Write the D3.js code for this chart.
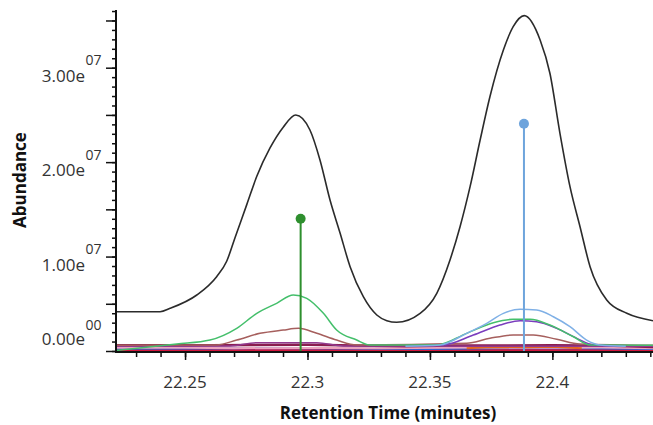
<!DOCTYPE html>
<html>
<head>
<meta charset="utf-8">
<script src="https://cdn.jsdelivr.net/npm/d3@7"></script>
<style>
  html, body { margin: 0; padding: 0; background: #fff; }
  svg { display: block; }
  text { font-family: "Open Sans", "Noto Sans", sans-serif; fill: #333; }
</style>
</head>
<body>
<svg id="chart" width="653" height="425"></svg>
<script>
// ---------------- DATA ----------------
// Total ion chromatogram (black)
const ticTimes = [22.2218, 22.2398, 22.2439, 22.2548, 22.2629, 22.2670, 22.2704, 22.2752, 22.2793, 22.2847,
  22.2901, 22.2952, 22.3010, 22.3051, 22.3092, 22.3133, 22.3174, 22.3228, 22.3283, 22.3324,
  22.3364, 22.3460, 22.3528, 22.3582, 22.3623, 22.3664, 22.3705, 22.3745, 22.3800, 22.3840,
  22.3885, 22.3950, 22.3990, 22.4031, 22.4072, 22.4113, 22.4154, 22.4222, 22.4304, 22.4411];
const ticValues = [0.416e7, 0.416e7, 0.452e7, 0.593e7, 0.787e7, 0.950e7, 1.200e7, 1.550e7, 1.850e7, 2.150e7,
  2.370e7, 2.499e7, 2.340e7, 2.023e7, 1.599e7, 1.250e7, 0.893e7, 0.575e7, 0.381e7, 0.321e7,
  0.304e7, 0.399e7, 0.611e7, 0.964e7, 1.316e7, 1.740e7, 2.234e7, 2.693e7, 3.188e7, 3.434e7,
  3.551e7, 3.293e7, 2.941e7, 2.305e7, 1.740e7, 1.316e7, 0.893e7, 0.540e7, 0.399e7, 0.321e7];

// Extracted ion traces
const greenTimes = [22.2218, 22.2466, 22.2602, 22.2711, 22.2793, 22.2874, 22.2942, 22.2997, 22.3065, 22.3119, 22.3201, 22.3255,
  22.3528, 22.3650, 22.3759, 22.3840, 22.3909, 22.3990, 22.4086, 22.4154, 22.4411];
const greenValues = [0.060e6, 0.74e6, 1.16e6, 2.40e6, 3.99e6, 5.05e6, 5.93e6, 5.58e6, 3.99e6, 2.22e6, 1.16e6, 0.64e6,
  0.64e6, 1.87e6, 3.00e6, 3.36e6, 3.36e6, 2.75e6, 1.51e6, 0.64e6, 0.60e6];

const brownTimes = [22.2218, 22.2629, 22.2711, 22.2806, 22.2901, 22.2963, 22.3038, 22.3119, 22.3201,
  22.3650, 22.3745, 22.3840, 22.3922, 22.4018, 22.4113, 22.4411];
const brownValues = [0.60e6, 0.64e6, 1.16e6, 1.87e6, 2.22e6, 2.40e6, 1.87e6, 1.16e6, 0.64e6,
  0.82e6, 1.34e6, 1.69e6, 1.69e6, 1.24e6, 0.74e6, 0.60e6];

const magentaTimes = [22.2218, 22.2684, 22.2793, 22.3038, 22.3146, 22.4411];
const magentaValues = [0.50e6, 0.53e6, 0.88e6, 0.88e6, 0.53e6, 0.50e6];

const violetTimes = [22.3400, 22.3555, 22.3677, 22.3786, 22.3868, 22.3936, 22.4018, 22.4100, 22.4167, 22.4300];
const violetValues = [0.55e6, 0.64e6, 1.69e6, 2.75e6, 3.21e6, 3.10e6, 2.40e6, 1.34e6, 0.64e6, 0.55e6];

const skyTimes = [22.3400, 22.3541, 22.3650, 22.3732, 22.3800, 22.3868, 22.3936, 22.4004, 22.4072, 22.4140, 22.4194, 22.4300];
const skyValues = [0.50e6, 0.64e6, 1.87e6, 2.93e6, 3.99e6, 4.42e6, 4.34e6, 3.63e6, 2.57e6, 1.16e6, 0.64e6, 0.50e6];

// Low-level baseline traces
const maroonTimes = [22.2218, 22.2600, 22.3000, 22.3400, 22.3600, 22.4000, 22.4250, 22.4411];
const maroonValues = [0.62e6, 0.62e6, 0.66e6, 0.50e6, 0.58e6, 0.60e6, 0.55e6, 0.42e6];

const pinkTimes = [22.2218, 22.2500, 22.2700, 22.3100, 22.3300, 22.3700, 22.4000, 22.4200, 22.4411];
const pinkValues = [0.34e6, 0.34e6, 0.30e6, 0.32e6, 0.30e6, 0.36e6, 0.34e6, 0.36e6, 0.30e6];

const blueTimes = [22.2218, 22.2600, 22.2900, 22.3150, 22.3500, 22.3800, 22.4100, 22.4411];
const blueValues = [0.24e6, 0.26e6, 0.30e6, 0.26e6, 0.22e6, 0.28e6, 0.30e6, 0.22e6];

const orangeTimes = [22.3650, 22.3750, 22.3900, 22.4000, 22.4120];
const orangeValues = [0.30e6, 0.42e6, 0.40e6, 0.44e6, 0.30e6];

const redTimes = [22.2218, 22.2800, 22.3200, 22.3600, 22.4000, 22.4411];
const redValues = [0.12e6, 0.10e6, 0.14e6, 0.12e6, 0.12e6, 0.10e6];

const navyTimes = [22.2218, 22.4411];
const navyValues = [0.03e6, 0.03e6];

// Annotated peak apexes (stems)
const stemTimes = [22.2972, 22.3884];
const stemValues = [1.40e7, 2.407e7];

// Axes
const xTickValues = [22.25, 22.3, 22.35, 22.4];
const xTickLabels = ["22.25", "22.3", "22.35", "22.4"];
const yTickValues = [0, 1e7, 2e7, 3e7];
const yTickMantissa = ["0.00e", "1.00e", "2.00e", "3.00e"];
const yTickExponent = ["00", "07", "07", "07"];
const xTitle = "Retention Time (minutes)";
const yTitle = "Abundance";

// ---------------- CHART ----------------
const svg = d3.select("#chart");
const mLeft = 116, mRight = 653, mTop = 10, mBottom = 351;

const x = d3.scaleLinear().domain([22.2218, 22.4411]).range([mLeft, mRight]);
const y = d3.scaleLinear().domain([0, 3.611e7]).range([mBottom, mTop]);

svg.append("defs").append("clipPath").attr("id", "plotclip")
  .append("rect").attr("x", mLeft).attr("y", mTop - 2).attr("width", mRight - mLeft).attr("height", mBottom - mTop + 2);

const plot = svg.append("g").attr("clip-path", "url(#plotclip)");
const smoothLine = d3.line().x(d => x(d[0])).y(d => y(d[1])).curve(d3.curveMonotoneX);
const flatLine = d3.line().x(d => x(d[0])).y(d => y(d[1]));
const zip = (ts, vs) => ts.map((t, i) => [t, vs[i]]);

const traces = [
  { t: navyTimes, v: navyValues, c: "#1d2b6b", w: 2, s: false },
  { t: redTimes, v: redValues, c: "#d2153b", w: 2.5, s: false },
  { t: blueTimes, v: blueValues, c: "#2b66d8", w: 2, s: false },
  { t: pinkTimes, v: pinkValues, c: "#efa3bd", w: 2, s: false },
  { t: orangeTimes, v: orangeValues, c: "#e4661d", w: 2, s: false },
  { t: maroonTimes, v: maroonValues, c: "#8a1d4d", w: 2.5, s: false },
  { t: magentaTimes, v: magentaValues, c: "#913a8f", w: 1.5, s: true },
  { t: brownTimes, v: brownValues, c: "#a65f5d", w: 1.5, s: true },
  { t: violetTimes, v: violetValues, c: "#7a3dbd", w: 1.5, s: true },
  { t: greenTimes, v: greenValues, c: "#44bf6b", w: 1.5, s: true },
  { t: skyTimes, v: skyValues, c: "#7fb0e6", w: 1.5, s: true },
  { t: ticTimes, v: ticValues, c: "#2b2b2b", w: 1.6, s: true }
];
traces.forEach(tr => {
  plot.append("path").datum(zip(tr.t, tr.v))
    .attr("d", tr.s ? smoothLine : flatLine).attr("fill", "none")
    .attr("stroke", tr.c).attr("stroke-width", tr.w).attr("stroke-linejoin", "round");
});

const stemColors = ["#2e8f2e", "#6ea4dc"];
stemTimes.forEach((t, i) => {
  plot.append("line")
    .attr("x1", x(t)).attr("x2", x(t))
    .attr("y1", y(stemValues[i])).attr("y2", y(0))
    .attr("stroke", stemColors[i]).attr("stroke-width", 2);
  plot.append("circle")
    .attr("cx", x(t)).attr("cy", y(stemValues[i])).attr("r", 5)
    .attr("fill", stemColors[i]);
});

// Y axis
const yMinor = d3.range(0, 3.6e7 + 1, 1e6);
const yMid = d3.range(0, 3.6e7 + 1, 5e6);
const gy = svg.append("g").attr("transform", `translate(${mLeft},0)`);
gy.call(d3.axisLeft(y).tickValues(yMinor).tickSize(4).tickSizeOuter(0).tickFormat(""));
gy.append("g").call(d3.axisLeft(y).tickValues(yMid).tickSize(10).tickSizeOuter(0).tickFormat(""));
gy.selectAll("line").attr("stroke", "#111").attr("stroke-width", 1.5);
gy.selectAll("path.domain").attr("stroke", "#111").attr("stroke-width", 2)
  .attr("d", `M0,${mTop}V${mBottom + 1}`);

yTickValues.forEach((v, i) => {
  const ty = y(v);
  const isZero = v === 0;
  const base = isZero ? ty - 6 : ty + 14;
  const sup = isZero ? ty - 21 : ty - 2.5;
  svg.append("text").attr("x", 85).attr("y", base).attr("text-anchor", "end")
    .attr("font-size", 17).text(yTickMantissa[i]);
  svg.append("text").attr("x", 85.5).attr("y", sup).attr("text-anchor", "start")
    .attr("font-size", 14).text(yTickExponent[i]);
});

// X axis
const xMinor = d3.range(22.23, 22.441, 0.01);
const gx = svg.append("g").attr("transform", `translate(0,${mBottom + 1})`);
gx.call(d3.axisBottom(x).tickValues(xMinor).tickSize(5).tickSizeOuter(0).tickFormat(""));
gx.append("g").call(d3.axisBottom(x).tickValues(xTickValues).tickSize(8).tickSizeOuter(0).tickFormat(""));
gx.selectAll("line").attr("stroke", "#111").attr("stroke-width", 1.5);
gx.selectAll("path.domain").attr("stroke", "#111").attr("stroke-width", 2)
  .attr("d", `M${mLeft - 1},0H${mRight}`);

xTickValues.forEach((v, i) => {
  svg.append("text").attr("x", x(v)).attr("y", 388).attr("text-anchor", "middle")
    .attr("font-size", 17).text(xTickLabels[i]);
});

svg.append("text").attr("x", 388).attr("y", 419).attr("text-anchor", "middle")
  .attr("font-size", 17).attr("font-weight", "bold").style("fill", "#111").text(xTitle);
svg.append("text").attr("transform", "translate(26,180) rotate(-90)").attr("text-anchor", "middle")
  .attr("font-size", 17).attr("font-weight", "bold").style("fill", "#111").text(yTitle);
</script>
</body>
</html>
